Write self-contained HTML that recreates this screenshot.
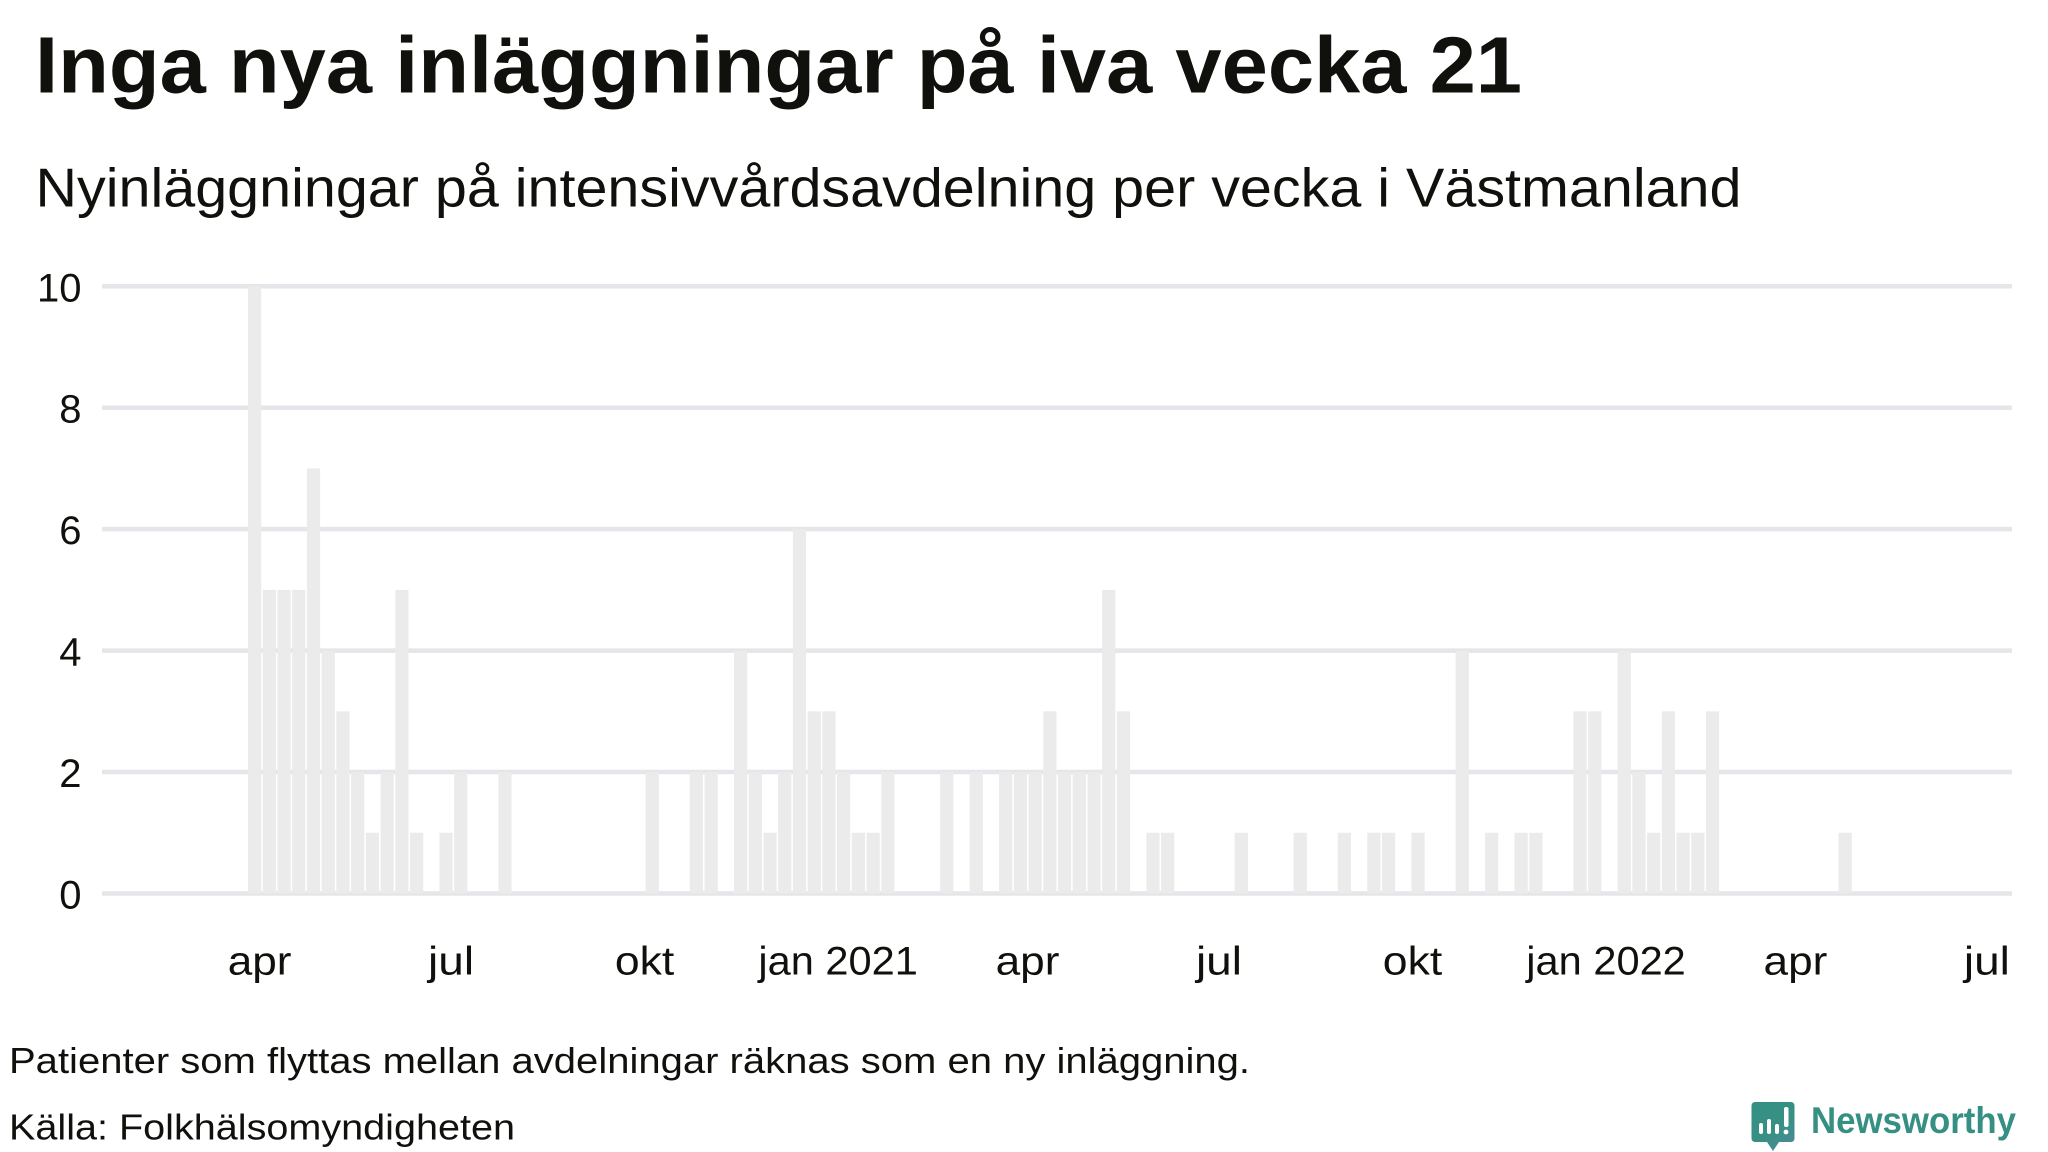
<!DOCTYPE html>
<html lang="sv">
<head>
<meta charset="utf-8">
<title>Inga nya inläggningar på iva vecka 21</title>
<style>
html,body{margin:0;padding:0;background:#fff;width:2048px;height:1152px;overflow:hidden}
svg{display:block}
text{font-family:"Liberation Sans",sans-serif;fill:#10100c}
</style>
</head>
<body>
<svg id="chart" xmlns="http://www.w3.org/2000/svg" width="2048" height="1152" viewBox="0 0 2048 1152">
  <rect width="2048" height="1152" fill="#fff"/>
  <text x="35" y="92.5" font-size="80" font-weight="700" textLength="1487" lengthAdjust="spacingAndGlyphs">Inga nya inläggningar på iva vecka 21</text>
  <text x="35.5" y="206.5" font-size="54.5" textLength="1706" lengthAdjust="spacingAndGlyphs">Nyinläggningar på intensivvårdsavdelning per vecka i Västmanland</text>
  <g id="grid"></g>
  <g id="bars"></g>
  <g id="yticks"></g>
  <g id="xticks"></g>
  <text x="9" y="1073" font-size="36" textLength="1241" lengthAdjust="spacingAndGlyphs">Patienter som flyttas mellan avdelningar räknas som en ny inläggning.</text>
  <text x="9" y="1139.5" font-size="36" textLength="506" lengthAdjust="spacingAndGlyphs">Källa: Folkhälsomyndigheten</text>
  <g>
    <defs>
      <linearGradient id="logoGrad" x1="0" y1="0" x2="0.7" y2="1">
        <stop offset="0" stop-color="#358f82"/>
        <stop offset="0.65" stop-color="#389085"/>
        <stop offset="1" stop-color="#4a8a96"/>
      </linearGradient>
    </defs>
    <path fill="url(#logoGrad)" d="M1755 1102h36a3.500 3.500 0 0 1 3.500 3.500v33a3.500 3.500 0 0 1-3.500 3.500h-12l-6 9-6-9h-12a3.500 3.500 0 0 1-3.500-3.500v-33a3.500 3.500 0 0 1 3.500-3.500z"/>
    <g fill="#fff">
      <rect x="1759" y="1123" width="4" height="11" rx="2"/>
      <rect x="1767" y="1119" width="4" height="15" rx="2"/>
      <rect x="1775" y="1124" width="4" height="10" rx="2"/>
      <rect x="1784" y="1107" width="4.500" height="20" rx="2"/>
      <circle cx="1786" cy="1132" r="2.400"/>
    </g>
    <text x="1811" y="1133" font-size="37" font-weight="700" textLength="205" lengthAdjust="spacingAndGlyphs" style="fill:#358f82">Newsworthy</text>
  </g>
</svg>
<script>
// Chart data
const weeks = [
  "2020-03-30","2020-04-06","2020-04-13","2020-04-20","2020-04-27","2020-05-04","2020-05-11","2020-05-18","2020-05-25",
  "2020-06-01","2020-06-08","2020-06-15","2020-06-22","2020-06-29","2020-07-06","2020-07-13","2020-07-20","2020-07-27",
  "2020-08-03","2020-08-10","2020-08-17","2020-08-24","2020-08-31","2020-09-07","2020-09-14","2020-09-21","2020-09-28",
  "2020-10-05","2020-10-12","2020-10-19","2020-10-26","2020-11-02","2020-11-09","2020-11-16","2020-11-23","2020-11-30",
  "2020-12-07","2020-12-14","2020-12-21","2020-12-28","2021-01-04","2021-01-11","2021-01-18","2021-01-25",
  "2021-02-01","2021-02-08","2021-02-15","2021-02-22","2021-03-01","2021-03-08","2021-03-15","2021-03-22","2021-03-29",
  "2021-04-05","2021-04-12","2021-04-19","2021-04-26","2021-05-03","2021-05-10","2021-05-17","2021-05-24","2021-05-31",
  "2021-06-07","2021-06-14","2021-06-21","2021-06-28","2021-07-05","2021-07-12","2021-07-19","2021-07-26",
  "2021-08-02","2021-08-09","2021-08-16","2021-08-23","2021-08-30","2021-09-06","2021-09-13","2021-09-20","2021-09-27",
  "2021-10-04","2021-10-11","2021-10-18","2021-10-25","2021-11-01","2021-11-08","2021-11-15","2021-11-22","2021-11-29",
  "2021-12-06","2021-12-13","2021-12-20","2021-12-27","2022-01-03","2022-01-10","2022-01-17","2022-01-24","2022-01-31",
  "2022-02-07","2022-02-14","2022-02-21","2022-02-28","2022-03-07","2022-03-14","2022-03-21","2022-03-28",
  "2022-04-04","2022-04-11","2022-04-18","2022-04-25"
];
const admissions = [
  10,5,5,5,7,4,3,2,1,
  2,5,1,0,1,2,0,0,2,
  0,0,0,0,0,0,0,0,0,
  2,0,0,2,2,0,4,2,1,
  2,6,3,3,2,1,1,2,
  0,0,0,2,0,2,0,2,2,
  2,3,2,2,2,5,3,0,1,
  1,0,0,0,0,1,0,0,
  0,1,0,0,1,0,1,1,0,
  1,0,0,4,0,1,0,1,1,
  0,0,3,3,0,4,2,1,3,
  1,1,3,0,0,0,0,0,
  0,0,0,1
];
const yTicks = [0,2,4,6,8,10];
const xTickDates = ["2020-04-01","2020-07-01","2020-10-01","2021-01-01","2021-04-01","2021-07-01","2021-10-01","2022-01-01","2022-04-01","2022-07-01"];
const xTickLabels = ["apr","jul","okt","jan 2021","apr","jul","okt","jan 2022","apr","jul"];

const NS = "http://www.w3.org/2000/svg";
const DAY = 86400000;
const originTime = Date.parse("2020-03-30");
const plot = {left:102, right:2012, top:286.3, bottom:893.5, yMax:10, originX:254.6, pxPerWeek:14.727, barWidth:13.2};

function xScale(dateStr){
  return plot.originX + (Date.parse(dateStr) - originTime) / DAY / 7 * plot.pxPerWeek;
}
function yScale(v){
  return plot.bottom - (v / plot.yMax) * (plot.bottom - plot.top);
}

const gridG = document.getElementById("grid");
const barsG = document.getElementById("bars");
const yG = document.getElementById("yticks");
const xG = document.getElementById("xticks");

yTicks.forEach(function(t){
  const line = document.createElementNS(NS,"line");
  
  
  line.setAttribute("x1", plot.left);
  line.setAttribute("x2", plot.right);
  line.setAttribute("y1", yScale(t));
  line.setAttribute("y2", yScale(t));
  line.setAttribute("stroke", "#e5e5ea");
  line.setAttribute("stroke-width", "4.5");
  gridG.appendChild(line);

  const label = document.createElementNS(NS,"text");
  
  
  label.setAttribute("x", 81.5);
  label.setAttribute("y", yScale(t) + 15);
  label.setAttribute("text-anchor", "end");
  label.setAttribute("font-size", "40");
  label.textContent = t;
  yG.appendChild(label);
});

weeks.forEach(function(w, i){
  const v = admissions[i];
  if (!v) return;
  const bar = document.createElementNS(NS,"rect");
  
  
  bar.setAttribute("x", xScale(w) - plot.barWidth / 2);
  bar.setAttribute("y", yScale(v));
  bar.setAttribute("width", plot.barWidth);
  bar.setAttribute("height", yScale(0) - yScale(v));
  bar.setAttribute("fill", "#ebebeb");
  barsG.appendChild(bar);
});

xTickDates.forEach(function(d, i){
  const label = document.createElementNS(NS,"text");
  
  
  label.setAttribute("x", xScale(d) + 0.8);
  label.setAttribute("y", 974.5);
  label.setAttribute("text-anchor", "middle");
  label.setAttribute("font-size", "40");
  label.textContent = xTickLabels[i];
  xG.appendChild(label);
  label.setAttribute("textLength", (label.getComputedTextLength() + 6).toFixed(1));
  label.setAttribute("lengthAdjust", "spacingAndGlyphs");
});
</script>
</body>
</html>
